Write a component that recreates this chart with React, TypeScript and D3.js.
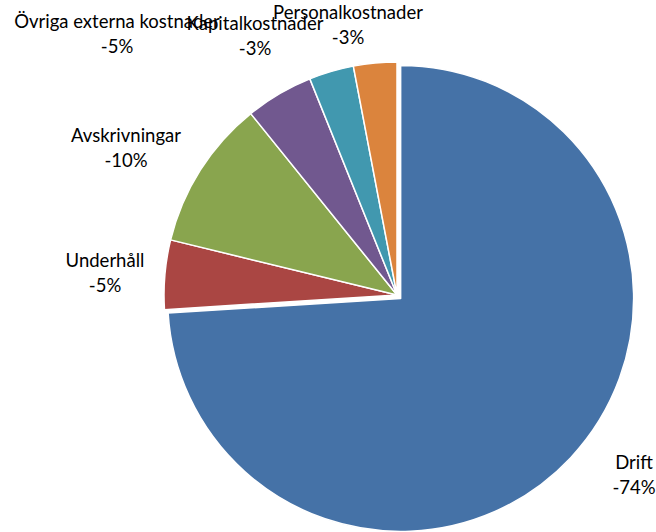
import React from "react";
import * as d3 from "d3";

const categories = ["Drift", "Underhåll", "Avskrivningar", "Övriga externa kostnader", "Kapitalkostnader", "Personalkostnader"];
const values = [-74.0, -4.8, -10.4, -4.7, -3.1, -3.0];
const valueLabels = ["-74%", "-5%", "-10%", "-5%", "-3%", "-3%"];
const colors = ["#4572A7", "#AA4643", "#89A54E", "#71588F", "#4198AF", "#DB843D"];
const explode = [5, 0, 0, 0, 0, 0];

// label anchor positions (layout)
const labelPos: [number, number][] = [
  [634, 469],
  [105, 267],
  [126, 142],
  [117, 28],
  [255, 30],
  [348, 19],
];

const W = 656;
const H = 532;
const cx = 397;
const cy = 295;
const R = 233;

export default function App() {
  const pie = d3
    .pie<number>()
    .sort(null)
    .value((d) => Math.abs(d));
  const arcs = pie(values);
  const arcGen = d3.arc<d3.PieArcDatum<number>>().innerRadius(0).outerRadius(R);
  return (
    <svg width={W} height={H} style={{ position: "absolute", left: 0, top: 0 }}>
      <rect width={W} height={H} fill="#fff" />
      <g transform={`translate(${cx},${cy})`}>
        {arcs.map((a, i) => {
          const mid = (a.startAngle + a.endAngle) / 2;
          const dx = Math.sin(mid) * explode[i];
          const dy = -Math.cos(mid) * explode[i];
          return (
            <path
              key={i}
              d={arcGen(a) || ""}
              transform={`translate(${dx},${dy})`}
              fill={colors[i]}
              stroke="#fff"
              strokeWidth={1.5}
              strokeLinejoin="round"
            />
          );
        })}
      </g>
      <g fontFamily="Lato, 'Open Sans', sans-serif" fontSize={18.5} fill="#000" textAnchor="middle">
        {categories.map((c, i) => (
          <text key={i} x={labelPos[i][0]} y={labelPos[i][1]}>
            <tspan x={labelPos[i][0]}>{c}</tspan>
            <tspan x={labelPos[i][0]} dy={25}>{valueLabels[i]}</tspan>
          </text>
        ))}
      </g>
    </svg>
  );
}
